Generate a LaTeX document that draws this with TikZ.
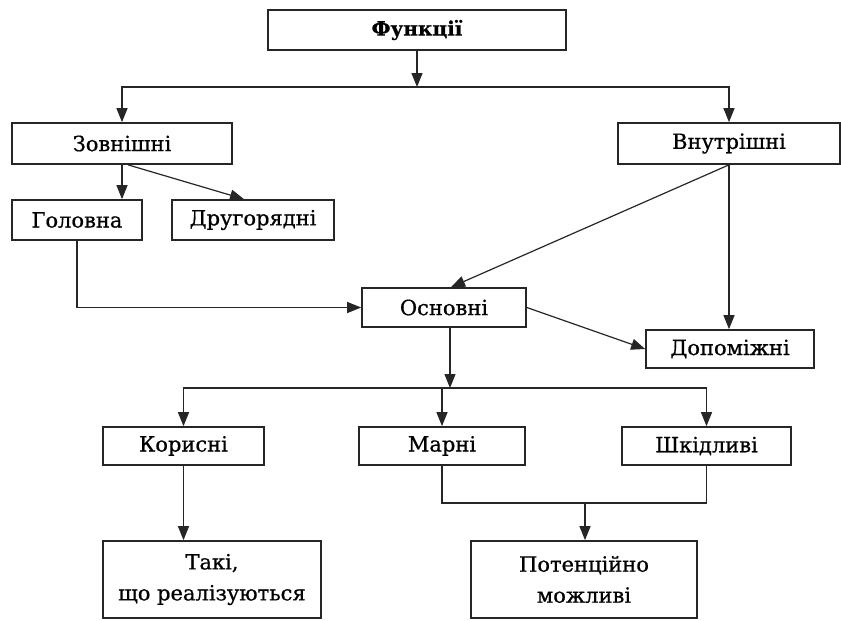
\documentclass[tikz,border=0pt]{standalone}
\usepackage{fontspec}
\setmainfont[FakeBold=0.7]{DejaVu Serif}
\usetikzlibrary{positioning,arrows.meta,calc}

\begin{document}
\begin{tikzpicture}[x=1pt, y=-1pt,
    font=\fontsize{21}{31}\selectfont,
    % General options for all boxes
    unit/.style={draw=black!85, line width=1.7pt, fill=white,
      inner sep=0pt, anchor=center, text centered,
      minimum height=39pt},
    % Two-line boxes at the bottom
    tall/.style={unit, align=center, minimum height=77pt},
    % Connectors
    link/.style={draw=black!85, line width=1.2pt,
      -{Triangle[length=14pt,width=11pt]}},
    bare/.style={draw=black!85, line width=1.2pt}]
  \fill[white] (0,0) rectangle (841,621);
  \useasboundingbox (0,0) rectangle (841,621);

  % Top level
  \node[unit, minimum width=298pt, minimum height=40pt, font=\fontsize{20}{31}\selectfont\bfseries]
    (func) at (417,30) {Функції};

  % Second level
  \node[unit, minimum width=220pt, minimum height=41pt] (ext) at (122,143.5) {Зовнішні};
  \node[unit, minimum width=222pt, minimum height=41pt] (int) at (729,143.5) {Внутрішні};

  % Third level
  \node[unit, minimum width=130pt, minimum height=40pt] (head) at (77,220) {Головна};
  \node[unit, minimum width=162pt, minimum height=40pt] (minor) at (253,220) {Другорядні};
  \node[unit, minimum width=164pt] (basic) at (444,307.5) {Основні};
  \node[unit, minimum width=168pt, minimum height=38pt] (aux) at (730,349) {Допоміжні};

  % Fourth level
  \node[unit, minimum width=161pt, minimum height=38pt] (useful) at (183.5,446) {Корисні};
  \node[unit, minimum width=166pt, minimum height=38pt] (waste) at (442,446) {Марні};
  \node[unit, minimum width=169pt, minimum height=38pt] (harm) at (706.5,446) {Шкідливі};

  % Bottom level
  \node[tall, minimum width=218pt] (real) at (212,579.5) {Такі,\\що реалізуються};
  \node[tall, minimum width=226pt] (pot) at (584,579.5) {Потенційно\\можливі};

  % Forks
  \coordinate (fork1) at (417,87);
  \coordinate (fork2) at (450,388);
  \coordinate (join) at (585,503);

  \draw[link] (func.south) -- (fork1);
  \draw[link] (fork1) -| (ext.north);
  \draw[link] (fork1) -| (int.north);

  \draw[link] (ext.south) -- (ext.south |- head.north);
  \draw[link] ([xshift=6pt]ext.south) -- ([xshift=-9pt]minor.north);

  \draw[link] (head.south) |- (basic.west);
  \draw[link] (int.south) -- ([xshift=7pt]basic.north);
  \draw[link] (int.south) -- (int.south |- aux.north);
  \draw[link] (basic.east) -- (aux.west);

  \draw[link] ([xshift=6pt]basic.south) -- (fork2);
  \draw[link] (fork2) -| (useful.north);
  \draw[link] (fork2) -| (harm.north);
  \draw[link] (waste.north |- fork2) -- (waste.north);

  \draw[link] (useful.south) -- (useful.south |- real.north);
  \draw[bare] (waste.south) |- (join) -| (harm.south);
  \draw[link] (join) -- (join |- pot.north);
\end{tikzpicture}
\end{document}
